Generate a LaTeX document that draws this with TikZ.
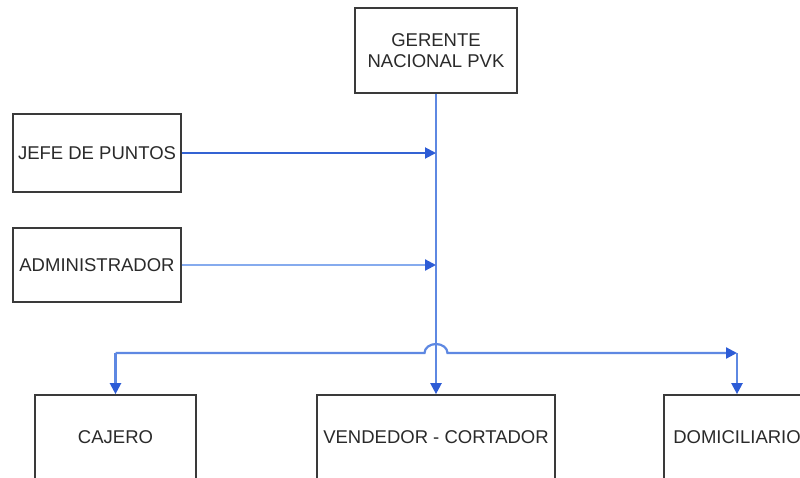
\documentclass[tikz,border=0pt]{standalone}
\usepackage{fontspec}
\setmainfont{Liberation Sans}
\usetikzlibrary{arrows.meta,shadows}
\definecolor{boxline}{HTML}{3A3A3A}
\definecolor{txt}{HTML}{2A2A2A}
\definecolor{ln}{HTML}{5E88E2}
\definecolor{lndark}{HTML}{3463D3}
\definecolor{lnlight}{HTML}{86ABEE}
\definecolor{tip}{HTML}{2D5CD6}
\begin{document}
\begin{tikzpicture}[x=1pt,y=-1pt,
  orgbox/.style={draw=boxline, line width=1.7pt, fill=white, align=center,
    text=txt, inner sep=0pt, font=\fontsize{18.5}{21}\selectfont,
    drop shadow={shadow xshift=1.2pt, shadow yshift=-1.2pt, fill=black!30}},
  conn/.style={draw=ln, line width=2.2pt},
  tipped/.style={-{Triangle[length=11pt,width=11pt,color=tip]}}]
\useasboundingbox (0,0) rectangle (800,477);
\clip (0,0) rectangle (800,477);
\fill[white] (0,0) rectangle (800,477);

\node[orgbox, minimum width=162pt, minimum height=85pt] (ger) at (436,50.5) {GERENTE\\NACIONAL PVK};
\node[orgbox, minimum width=168pt, minimum height=78pt] (jefe) at (97,153) {JEFE DE PUNTOS};
\node[orgbox, minimum width=168pt, minimum height=74pt] (adm) at (97,265) {ADMINISTRADOR};
\node[orgbox, minimum width=161pt, minimum height=85pt] (caj) at (115.5,437.5) {CAJERO};
\node[orgbox, minimum width=238pt, minimum height=85pt] (ven) at (436,437.5) {VENDEDOR - CORTADOR};
\node[orgbox, minimum width=146pt, minimum height=85pt] (dom) at (737,437.5) {DOMICILIARIO};

\coordinate (bus) at (436,353);

% vertical trunk
\draw[conn, tipped] (ger.south) -- (ven.north);
% side arrows
\draw[conn, draw=lndark, line width=1.9pt, tipped] (jefe.east) -- (jefe.east -| ger.south);
\draw[conn, draw=lnlight, line width=2.2pt, tipped] (adm.east) -- (adm.east -| ger.south);
% horizontal bus with hop
\draw[conn, tipped] (caj.north |- bus) -- ([xshift=-11.5pt]bus)
  arc[start angle=180, end angle=0, x radius=11.5pt, y radius=9pt]
  -- (dom.north |- bus);
\draw[conn, tipped] (caj.north |- bus) -- (caj.north);
\draw[conn, tipped] (dom.north |- bus) -- (dom.north);
\end{tikzpicture}
\end{document}
